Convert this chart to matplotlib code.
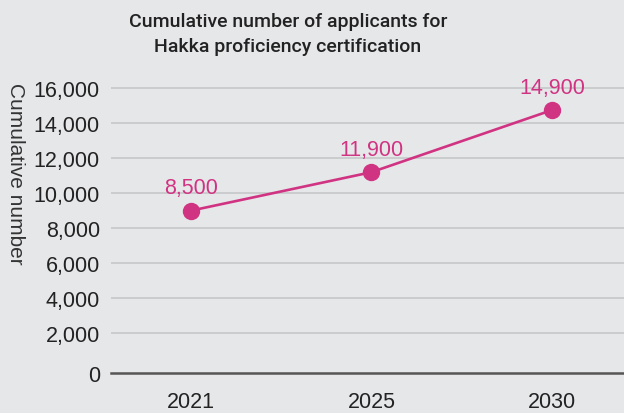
import matplotlib
matplotlib.use('Agg')
import matplotlib.pyplot as plt

plt.rcParams['font.family'] = ['Liberation Sans', 'DejaVu Sans']

# --- DATA ---
years = ['2021', '2025', '2030']
cumulative = [9000, 11200, 14750]          # marker positions as drawn
value_labels = ['8,500', '11,900', '14,900']  # printed labels
y_ticks = [2000, 4000, 6000, 8000, 10000, 12000, 14000, 16000]

bg = '#e6e7e9'
pink = '#d13383'
text_col = '#222222'

fig = plt.figure(figsize=(6.24, 4.14), dpi=100, facecolor=bg)
ax = fig.add_axes([111 / 624, 1 - 374.3 / 414, 1 - 111 / 624, (374.3 - 80) / 414])
ax.set_facecolor(bg)

x = list(range(len(years)))
ax.plot(x, cumulative, color=pink, linewidth=1.9, marker='o', markersize=11.5, zorder=3)
for xi, yi, lab in zip(x, cumulative, value_labels):
    ax.annotate(lab, (xi, yi), xytext=(0, 16.5), textcoords='offset points',
                ha='center', va='center', fontsize=15.5, color=pink)

ymin, ymax = -305, 16532
ax.set_ylim(ymin, ymax)
ax.set_xlim(-0.443, 2.40)

# horizontal grid
for t in y_ticks:
    ax.axhline(t, color='#c4c4c6', linewidth=1.1, zorder=1)

# tick at the baseline reads "0"
ax.set_yticks([ymin] + y_ticks)
ax.set_yticklabels(['0'] + [f'{t:,}' for t in y_ticks])
ax.set_xticks(x)
ax.set_xticklabels(years)
ax.tick_params(axis='both', length=0, labelsize=15.5, colors=text_col)
ax.tick_params(axis='y', pad=8)
ax.tick_params(axis='x', pad=13)

for s in ['top', 'right', 'left']:
    ax.spines[s].set_visible(False)
ax.spines['bottom'].set_color('#555555')
ax.spines['bottom'].set_linewidth(1.8)

title_font = dict(ha='center', va='center', fontsize=14, fontweight='medium',
                  color=text_col, family=['Roboto', 'DejaVu Sans'])
fig.text(288 / 624, 1 - 22 / 414, 'Cumulative number of applicants for', **title_font)
fig.text(288 / 624, 1 - 47 / 414, 'Hakka proficiency certification', **title_font)
fig.text(15 / 624, 1 - 174 / 414, 'Cumulative number', rotation=270,
         ha='center', va='center', fontsize=15, color='#333333')

fig.savefig('out.png', dpi=100, facecolor=bg)
